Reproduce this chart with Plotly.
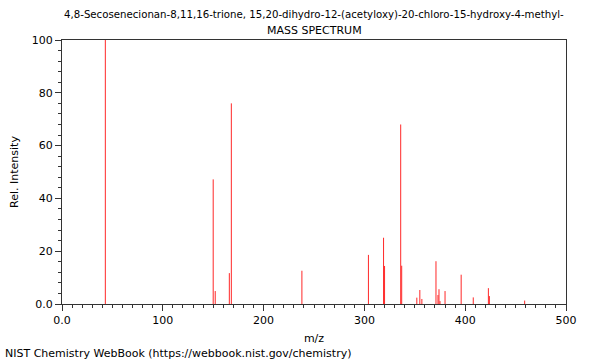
import plotly.graph_objects as go

mz = [43, 150, 152, 166, 168, 238, 304, 319, 320, 336, 337, 352, 355, 357,
      371, 373, 374, 375, 380, 396, 408, 423, 424, 459]
intensity = [100, 47.2, 4.9, 11.7, 76.0, 12.6, 18.6, 25.1, 14.4, 68.0, 14.5, 2.4, 5.3, 1.9,
             16.2, 3.4, 5.6, 1.1, 4.9, 11.1, 2.5, 6.0, 3.0, 1.3]

title_line1 = "4,8-Secosenecionan-8,11,16-trione, 15,20-dihydro-12-(acetyloxy)-20-chloro-15-hydroxy-4-methyl-"
title_line2 = "MASS SPECTRUM"
footer = "NIST Chemistry WebBook (https://webbook.nist.gov/chemistry)"

x_ticks = [0, 100, 200, 300, 400, 500]
x_labels = ["0.0", "100", "200", "300", "400", "500"]
y_ticks = [0, 20, 40, 60, 80, 100]
y_labels = ["0.0", "20", "40", "60", "80", "100"]

xs, ys = [], []
for m, v in zip(mz, intensity):
    xs += [m, m, None]
    ys += [0, v, None]

fig = go.Figure()
fig.add_trace(go.Scatter(x=xs, y=ys, mode="lines",
                         line=dict(color="rgb(255,40,40)", width=1),
                         hoverinfo="skip", showlegend=False))

font = dict(family="DejaVu Sans", size=11, color="black")
axis_common = dict(showgrid=False, zeroline=False, showline=True, linecolor="#333",
                   linewidth=1, mirror=True, ticks="outside", ticklen=6,
                   tickcolor="#333", tickfont=font, automargin=False)

fig.update_layout(
    width=600, height=360,
    margin=dict(l=62, r=34, t=40, b=56),
    plot_bgcolor="white", paper_bgcolor="white",
    font=font,
    xaxis=dict(range=[0, 500], tickvals=x_ticks, ticktext=x_labels,
               title=dict(text="m/z", font=font, standoff=8),
               minor=dict(dtick=10, ticks="outside", ticklen=3, tickcolor="#333"),
               **axis_common),
    yaxis=dict(range=[0, 100], tickvals=y_ticks, ticktext=y_labels,
               title=dict(text="Rel. Intensity", font=font, standoff=10),
               minor=dict(dtick=4, ticks="outside", ticklen=3, tickcolor="#333"),
               **axis_common),
)

plot_h = 360 - 40 - 56
def py(pix):
    return (360 - 56 - pix) / plot_h

fig.add_annotation(text=title_line1, x=0.5, xref="paper", y=py(14), yref="paper",
                   showarrow=False, font=dict(family="DejaVu Sans", size=10.2, color="black"),
                   yanchor="middle", xanchor="center")
fig.add_annotation(text=title_line2, x=0.5, xref="paper", y=py(30), yref="paper",
                   showarrow=False, font=font, yanchor="middle", xanchor="center")
fig.add_annotation(text=footer, x=(3 - 62) / 504, xref="paper", y=py(353), yref="paper",
                   showarrow=False, font=font, yanchor="middle", xanchor="left")

fig.write_html("out.html", config={"displayModeBar": False},
               post_script="document.body.style.margin='0';document.body.style.padding='0';")
